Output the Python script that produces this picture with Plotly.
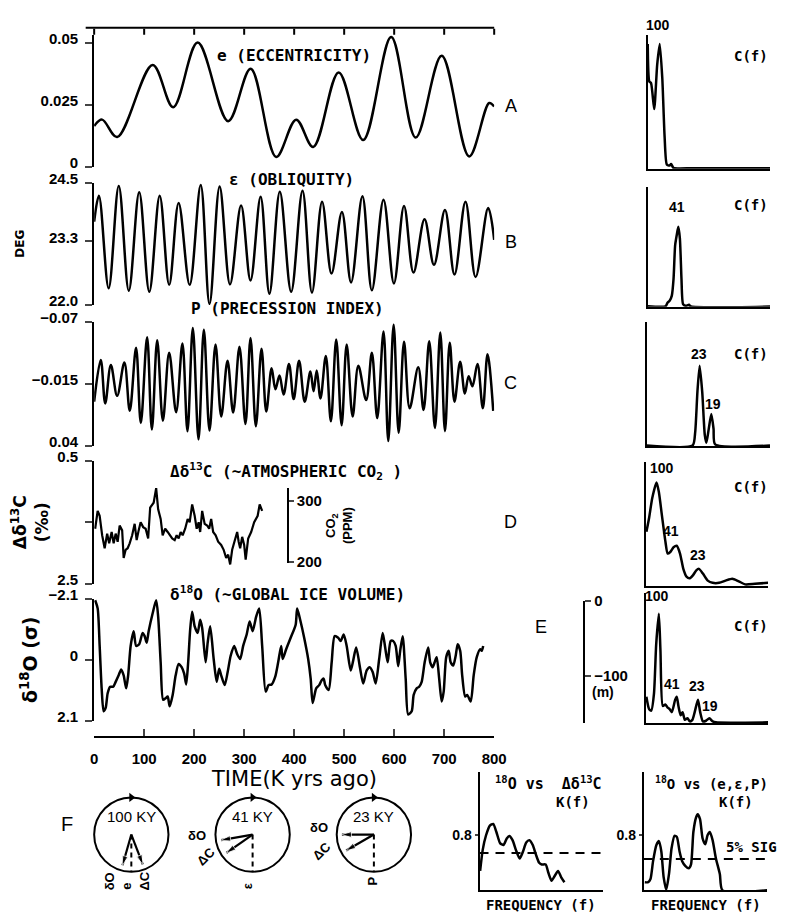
import plotly.graph_objects as go

# page is 791x921; the browser adds an 8px body margin, so the figure is 775x905 at (8, 8)
OFF = 8
FW, FH = 775, 905
def px(x): return (x - OFF) / FW
def py(y): return 1 - (y - OFF) / FH

# ---------------- data ----------------
ECC_T = [0, 16, 46, 117, 158, 207, 268, 313, 364, 404, 438, 489, 538, 594, 643, 695, 750, 790, 800]
ECC_V = [0.0164, 0.019, 0.012, 0.041, 0.024, 0.050, 0.0184, 0.0395, 0.004, 0.019, 0.008, 0.038,
         0.0108, 0.0522, 0.0118, 0.0447, 0.0042, 0.0257, 0.0243]

OBL_T = [0, 9.5, 29.0, 49.2, 69.3, 90.1, 110.3, 131.1, 150.0, 168.9, 191.0, 213.1, 230.7, 250.9,
         271.7, 293.8, 312.7, 332.9, 350.5, 371.3, 394.0, 416.7, 435.6, 455.8, 474.7, 495.5, 513.8,
         536.5, 555.4, 578.7, 599.5, 619.7, 638.6, 660.7, 679.6, 701.6, 720.6, 742.6, 762.8, 788.0, 800]
OBL_V = [23.70, 24.23, 22.34, 24.43, 22.29, 24.30, 22.27, 24.23, 22.41, 24.08, 22.41, 24.45, 22.02,
         24.42, 22.42, 24.03, 22.50, 24.21, 22.23, 24.31, 22.27, 24.33, 22.25, 24.11, 22.64, 23.90,
         22.46, 24.22, 22.30, 24.15, 22.44, 24.02, 22.66, 23.75, 22.82, 23.94, 22.62, 24.11, 22.57,
         23.98, 23.33]

PRE_T = [0, 13.2, 22.1, 33.4, 46.0, 60.5, 71.2, 83.8, 93.3, 105.9, 115.4, 126.1, 137.4, 150.0, 163.9,
         176.5, 186.6, 197.3, 208.7, 219.4, 230.7, 242.7, 254.1, 266.7, 278.0, 290.6, 302.6, 312.7,
         323.4, 334.7, 344.2, 354.9, 362.5, 370.7, 378.9, 389.6, 399.0, 409.8, 421.1, 432.5, 438.8,
         445.1, 452.6, 463.3, 473.4, 484.1, 494.9, 505.0, 516.9, 528.3, 544.0, 555.4, 566.1, 578.7,
         588.2, 598.9, 609.0, 619.7, 631.0, 648.1, 658.8, 670.1, 681.5, 692.2, 701.6, 711.1, 720.6,
         731.9, 741.4, 748.9, 756.5, 766.6, 777.3, 786.7, 798.1]
PRE_V = [0.0009, -0.0361, 0.0024, -0.0315, -0.0043, -0.0338, 0.0090, -0.0468, 0.0197, -0.0561,
         0.0255, -0.0535, 0.0177, -0.0425, 0.0102, -0.0506, 0.0270, -0.0642, 0.0342, -0.0628,
         0.0264, -0.0497, 0.0140, -0.0353, 0.0105, -0.0477, 0.0206, -0.0555, 0.0226, -0.0460,
         0.0096, -0.0286, -0.0101, -0.0222, -0.0054, -0.0324, -0.0014, -0.0353, 0.0009, -0.0257,
         -0.0083, -0.0266, -0.0020, -0.0396, 0.0183, -0.0541, 0.0218, -0.0497, 0.0140, -0.0309,
         -0.0005, -0.0425, 0.0154, -0.0613, 0.0357, -0.0671, 0.0284, -0.0521, 0.0067, -0.0295,
         0.0082, -0.0526, 0.0241, -0.0604, 0.0270, -0.0512, 0.0009, -0.0344, -0.0063, -0.0217,
         -0.0127, -0.0324, 0.0067, -0.0410, 0.0090]

CO2_T = [2, 7, 11, 16, 21, 26, 30, 35, 39, 43, 47, 51, 56, 59, 63, 67, 71, 76, 81, 85, 89, 93, 98,
         103, 108, 112, 119, 124, 128, 133, 137, 142, 147, 152, 156, 161, 165, 169, 173, 177, 182,
         187, 191, 196, 201, 205, 209, 212, 216, 221, 226, 230, 234, 238, 243, 248, 254, 259, 264,
         268, 272, 276, 281, 286, 289, 292, 296, 300, 303, 308, 314, 320, 327, 331, 336]
CO2_V = [1.605, 1.316, 1.395, 1.711, 1.921, 1.684, 1.842, 1.658, 1.842, 1.684, 1.816, 1.553, 1.632,
         2.079, 1.947, 1.921, 1.842, 1.711, 1.526, 1.789, 1.632, 1.500, 1.579, 1.605, 1.763, 1.263,
         1.184, 0.947, 1.289, 1.447, 1.711, 1.605, 1.658, 1.711, 1.763, 1.789, 1.711, 1.763, 1.658,
         1.711, 1.605, 1.447, 1.500, 1.211, 1.395, 1.605, 1.500, 1.658, 1.316, 1.526, 1.553, 1.605,
         1.447, 1.658, 1.711, 1.816, 1.868, 1.947, 2.079, 2.026, 2.184, 1.947, 1.816, 1.658, 1.816,
         1.921, 1.737, 1.868, 2.105, 1.763, 1.658, 1.500, 1.395, 1.211, 1.316]

ICE_T = [2, 7, 11, 15, 19, 23, 27, 32, 38, 43, 49, 54, 59, 64, 68, 73, 79, 84, 90, 97, 101, 105,
         109, 117, 124, 128, 133, 138, 143, 147, 151, 157, 163, 169, 175, 180, 184, 188, 192, 196,
         201, 207, 212, 216, 223, 227, 232, 239, 245, 250, 254, 261, 267, 273, 280, 286, 292, 298,
         305, 311, 317, 324, 330, 336, 343, 349, 355, 362, 368, 374, 377, 384, 393, 403, 406, 412,
         420, 428, 433, 437, 444, 450, 455, 459, 462, 469, 475, 481, 488, 493, 499, 505, 513, 518,
         524, 532, 538, 545, 551, 557, 563, 570, 577, 582, 587, 593, 598, 603, 608, 612, 617, 623,
         628, 635, 639, 645, 650, 655, 661, 668, 672, 677, 681, 685, 690, 695, 699, 704, 709, 713,
         718, 723, 727, 732, 736, 742, 746, 753, 759, 765, 772, 775, 778]
ICE_V = [-2.044, -1.764, -0.476, 0.980, 1.764, 1.652, 1.148, 0.924, 0.924, 0.756, 0.532, 0.330,
         0.532, 0.980, 0.532, -0.476, -0.980, -0.476, -0.532, -0.924, -0.812, -0.588, -0.980,
         -1.596, -2.044, -1.484, 0.084, 1.372, 1.316, 1.260, 1.596, 1.204, 0.532, 0.140, 0.252,
         0.476, 0.846, 0.084, -1.036, -1.652, -1.148, -0.924, -1.372, -1.092, 0.084, -0.588,
         -1.148, -0.028, 0.756, 0.308, 0.532, 0.868, 0.420, -0.140, -0.476, -0.196, -0.028,
         -0.476, -0.868, -1.316, -0.980, -1.484, -1.764, -0.476, 1.092, 0.868, 0.846, 0.588,
         0.084, -0.476, -0.028, -0.364, -0.756, -1.204, -1.764, -1.372, -0.756, -0.028, 0.644,
         1.484, 0.980, 0.868, 0.700, 0.644, 0.868, 1.036, 0.084, -0.812, -0.756, -0.644, -0.868,
         -0.476, 0.364, 0.028, -0.420, 0.308, 0.812, 0.364, 0.252, 0.420, 0.812, -0.028, -0.924,
         -0.420, 0.084, -0.644, -0.644, -0.476, 0.218, -0.308, -0.812, 0.644, 1.876, 1.764, 1.204,
         0.980, 0.924, 0.756, 0.084, -0.420, 0.084, 0.252, 0.084, -0.084, 0.644, 1.428, 1.092,
         -0.084, -0.308, 0.084, 0.196, -0.140, -0.532, -0.308, 0.532, 1.260, 1.204, 1.428, 0.532,
         -0.084, -0.364, -0.308, -0.476]

# spectra C(f): frequency (0..1 of axis) and normalised power
SA_F = [0, 0.013, 0.027, 0.053, 0.077, 0.098, 0.119, 0.138, 0.156, 0.178, 0.191, 0.21, 0.363, 1.0]
SA_C = [0.987, 0.69, 0.678, 0.472, 0.82, 0.987, 0.716, 0.253, 0.034, 0.026, 0.039, 0.008, 0.005, 0.005]
SB_F = [0, 0.145, 0.163, 0.179, 0.197, 0.211, 0.224, 0.237, 0.25, 0.263, 0.276, 0.289, 0.311, 0.337, 0.355, 1.0]
SB_C = [0.005, 0.005, 0.039, 0.054, 0.1, 0.248, 0.546, 0.636, 0.71, 0.606, 0.248, 0.024, 0.009, 0.018, 0.003, 0.003]
SC_F = [0, 0.372, 0.393, 0.411, 0.429, 0.45, 0.471, 0.484, 0.503, 0.524, 0.542, 0.555, 1.0]
SC_C = [0.003, 0.003, 0.118, 0.461, 0.684, 0.461, 0.092, 0.026, 0.145, 0.271, 0.145, 0.013, 0.003]
SD_F = [0.005, 0.027, 0.053, 0.088, 0.107, 0.133, 0.16, 0.179, 0.2, 0.227, 0.253, 0.28, 0.307, 0.333,
        0.36, 0.387, 0.413, 0.435, 0.467, 0.507, 0.547, 0.6, 0.653, 0.707, 0.76, 0.813, 0.893, 1.0]
SD_C = [0.461, 0.579, 0.75, 0.882, 0.8, 0.592, 0.382, 0.276, 0.289, 0.329, 0.342, 0.276, 0.145, 0.079,
        0.066, 0.092, 0.132, 0.145, 0.105, 0.045, 0.026, 0.026, 0.045, 0.061, 0.039, 0.013, 0.018, 0.026]
SE_F = [0.005, 0.027, 0.045, 0.067, 0.085, 0.107, 0.12, 0.139, 0.16, 0.179, 0.195, 0.213, 0.24, 0.253,
        0.267, 0.285, 0.301, 0.32, 0.341, 0.36, 0.381, 0.4, 0.427, 0.445, 0.467, 0.493, 0.52, 0.547,
        0.573, 1.0]
SE_C = [0.213, 0.113, 0.1, 0.238, 0.638, 0.888, 0.588, 0.138, 0.15, 0.125, 0.113, 0.088, 0.188, 0.213,
        0.138, 0.063, 0.088, 0.025, 0.038, 0.013, 0.025, 0.088, 0.188, 0.088, 0.013, 0.018, 0.038,
        0.013, 0.005, 0.005]

# coherence K(f)
K1_F = [0.005, 0.026, 0.053, 0.084, 0.111, 0.137, 0.168, 0.195, 0.221, 0.242, 0.268, 0.295, 0.326,
        0.353, 0.379, 0.405, 0.432, 0.458, 0.484, 0.505, 0.537, 0.558, 0.584, 0.611, 0.637, 0.663, 0.689]
K1_K = [0.282, 0.588, 0.8, 0.941, 0.965, 0.847, 0.682, 0.659, 0.753, 0.791, 0.729, 0.588, 0.461,
        0.565, 0.696, 0.729, 0.659, 0.518, 0.4, 0.376, 0.376, 0.259, 0.141, 0.212, 0.282, 0.188, 0.118]
K2_F = [0.008, 0.035, 0.054, 0.075, 0.102, 0.123, 0.142, 0.161, 0.182, 0.204, 0.225, 0.249, 0.268,
        0.29, 0.311, 0.338, 0.365, 0.383, 0.402, 0.424, 0.437, 0.456, 0.477, 0.499, 0.517, 0.536,
        0.558, 0.584, 0.617, 0.638, 1.0]
K2_K = [0.118, 0.118, 0.165, 0.424, 0.659, 0.715, 0.565, 0.188, 0.009, 0.235, 0.612, 0.791, 0.776,
        0.565, 0.424, 0.353, 0.32, 0.376, 0.847, 1.059, 1.106, 1.035, 0.753, 0.668, 0.8, 0.847,
        0.729, 0.471, 0.235, 0.0, 0.0]
K1_SIG = 0.541
K2_SIG = 0.456

# phase wheels: period label, phase (deg clockwise from the orbital reference) of dO and dC
WHEEL_LABELS = ['100 KY', '41 KY', '23 KY']
PHASE_O = [16, 80, 90]
PHASE_C = [339, 55, 60]
TIME_TICKS = list(range(0, 801, 100))

# ---------------- styling ----------------
BOLD = dict(family='Liberation Sans', size=15, color='black', weight='bold')
SMALLBOLD = dict(family='Liberation Sans', size=14, color='black', weight='bold')
LW = 2.5

fig = go.Figure()

def line_trace(x, y, xa, ya, shape='spline', smooth=1.0, width=LW, dash=None):
    ln = dict(color='black', width=width)
    if shape == 'spline':
        ln.update(shape='spline', smoothing=smooth)
    if dash:
        ln['dash'] = dash
    return go.Scatter(x=x, y=y, xaxis=xa, yaxis=ya, mode='lines', line=ln,
                      showlegend=False, hoverinfo='skip')

fig.add_trace(line_trace(ECC_T, ECC_V, 'x', 'y'))
fig.add_trace(line_trace(OBL_T, OBL_V, 'x', 'y2'))
fig.add_trace(line_trace(PRE_T, PRE_V, 'x', 'y3'))
fig.add_trace(line_trace(CO2_T, CO2_V, 'x', 'y4', shape='linear', width=2.2))
fig.add_trace(line_trace(ICE_T, ICE_V, 'x', 'y5', smooth=0.7))
# scale axes (CO2 ppm, sea level m)
fig.add_trace(go.Scatter(x=[None], y=[None], xaxis='x', yaxis='y6', showlegend=False))
fig.add_trace(go.Scatter(x=[None], y=[None], xaxis='x', yaxis='y7', showlegend=False))

spectra = [(SA_F, SA_C), (SB_F, SB_C), (SC_F, SC_C), (SD_F, SD_C), (SE_F, SE_C)]
for i, (f, c) in enumerate(spectra):
    fig.add_trace(line_trace(f, c, f'x{3+i}', f'y{8+i}', smooth=0.6))

fig.add_trace(line_trace(K1_F, K1_K, 'x8', 'y13', smooth=0.6))
fig.add_trace(line_trace([0, 1], [K1_SIG, K1_SIG], 'x8', 'y13', shape='linear', width=2, dash='9px,7px'))
fig.add_trace(line_trace(K2_F, K2_K, 'x9', 'y14', smooth=0.6))
fig.add_trace(line_trace([0, 1], [K2_SIG, K2_SIG], 'x9', 'y14', shape='linear', width=2, dash='9px,7px'))

# phase wheels
for i in range(3):
    sp = 'polar' if i == 0 else f'polar{i+1}'
    fig.add_trace(go.Scatterpolar(r=[0, 1], theta=[0, 0], mode='lines', subplot=sp,
                                  line=dict(color='black', width=2, dash='5px,4px'),
                                  showlegend=False, hoverinfo='skip'))
    for ph in (PHASE_O[i], PHASE_C[i]):
        fig.add_trace(go.Scatterpolar(r=[0, 0.86], theta=[ph, ph], mode='lines+markers', subplot=sp,
                                      line=dict(color='black', width=2.2),
                                      marker=dict(symbol=['circle', 'arrow'], size=[0, 10],
                                                  angle=[0, 180 + ph], color='black'),
                                      showlegend=False, hoverinfo='skip'))
    fig.add_trace(go.Scatterpolar(r=[1], theta=[180], mode='markers', subplot=sp, cliponaxis=False,
                                  marker=dict(symbol='triangle-right', size=8, color='black'),
                                  showlegend=False, hoverinfo='skip'))

# ---------------- axes ----------------
X0, X1 = 92, 501
ax_common = dict(showgrid=False, zeroline=False, showline=True, linecolor='black', linewidth=2)

layout = dict(
    width=FW, height=FH, autosize=False,
    margin=dict(l=0, r=0, t=0, b=0),
    paper_bgcolor='white', plot_bgcolor='rgba(0,0,0,0)',
    showlegend=False,
    xaxis=dict(domain=[px(X0), px(X1)], range=[0, 800], anchor='free', position=py(739),
               ticks='inside', ticklen=7, tickwidth=2, tickvals=TIME_TICKS,
               tickfont=BOLD, ticklabelstandoff=8, **ax_common),
)

def yax(top, bot, rng, tv, tt, title=None, tsize=15, standoff=6, shift=-4):
    d = dict(domain=[py(bot), py(top)], range=rng, anchor='x', ticks='outside', ticklen=7,
             tickwidth=2, tickvals=tv, ticktext=tt, tickfont=BOLD, ticklabelstandoff=4,
             ticklabelshift=shift, **ax_common)
    if title:
        d['title'] = dict(text=title, font=dict(family='DejaVu Sans', size=tsize, color='black',
                                                weight='bold'), standoff=standoff)
    return d

layout['yaxis'] = yax(22.4, 157, [0, 0.053], [0, 0.025, 0.05], ['0', '0.025', '0.05'])
layout['yaxis2'] = yax(173, 298, [22.0, 24.5], [22.0, 23.3, 24.5], ['22.0', '23.3', '24.5'],
                       title='DEG', tsize=12, standoff=22)
layout['yaxis3'] = yax(315, 442, [0.04, -0.07], [-0.07, -0.015, 0.04], ['−0.07', '−0.015', '0.04'],
                       shift=4)
layout['yaxis4'] = yax(457, 583, [2.5, 0.5], [0.5, 1.5, 2.5], ['0.5', '', '2.5'],
                       title='Δδ<sup>13</sup>C<br>(‰)', tsize=17, shift=4)
layout['yaxis5'] = yax(598, 723, [2.1, -2.1], [-2.1, 0, 2.1], ['−2.1', '0', '2.1'],
                       title='δ<sup>18</sup>O (σ)', tsize=19, shift=4)
layout['yaxis6'] = dict(domain=[py(562), py(485)], range=[197, 321], anchor='free', position=px(290),
                        side='right', ticks='outside', ticklen=5, tickwidth=2, tickvals=[200, 300],
                        tickfont=BOLD,
                        title=dict(text='CO<sub>2</sub><br>(PPM)',
                                   font=dict(family='Liberation Sans', size=13, color='black',
                                             weight='bold'), standoff=4),
                        **ax_common)
layout['yaxis7'] = dict(domain=[py(725), py(600)], range=[-162, 0], anchor='free', position=px(593),
                        side='right', ticks='outside', ticklen=6, tickwidth=2, tickvals=[0, -100],
                        ticktext=['0', '−100'], tickfont=BOLD, **ax_common)

spec_boxes = [(658, 783, 22, 159), (658, 783, 178, 300), (657, 783, 315, 442),
              (656, 781, 458, 585), (656, 781, 592, 725)]
for i, (l, r, t, b) in enumerate(spec_boxes):
    layout[f'xaxis{3+i}'] = dict(domain=[px(l), px(r)], range=[0, 1], anchor=f'y{8+i}',
                                 ticks='', showticklabels=False, **ax_common)
    layout[f'yaxis{8+i}'] = dict(domain=[py(b), py(t)], range=[0, 1.06], anchor=f'x{3+i}',
                                 ticks='', showticklabels=False, **ax_common)

coh_boxes = [(486, 612), (654, 780)]
for i, (l, r) in enumerate(coh_boxes):
    layout[f'xaxis{8+i}'] = dict(domain=[px(l), px(r)], range=[0, 1], anchor=f'y{13+i}',
                                 ticks='', showticklabels=False, **ax_common)
    layout[f'yaxis{13+i}'] = dict(domain=[py(896), py(775)], range=[0, 1.72], anchor=f'x{8+i}',
                                  ticks='outside', ticklen=3, tickwidth=2, tickvals=[0.8],
                                  ticktext=['0.8'], tickfont=SMALLBOLD, **ax_common)

R = 38
WHEEL_X = [130, 254, 378]
for i, cx in enumerate(WHEEL_X):
    cy = 839
    key = 'polar' if i == 0 else f'polar{i+1}'
    layout[key] = dict(domain=dict(x=[px(cx - R), px(cx + R)], y=[py(cy + R), py(cy - R)]),
                       bgcolor='rgba(0,0,0,0)',
                       angularaxis=dict(direction='clockwise', rotation=270, showline=True,
                                        linecolor='black', linewidth=2, showticklabels=False,
                                        ticks='', showgrid=False),
                       radialaxis=dict(visible=False, range=[0, 1]))

fig.update_layout(**layout)

# ---------------- top time axis (drawn in the annotation layer) ----------------
TOP_Y = 15          # page y of the top axis line
TOP_TICK = 7        # tick length, pointing down
def time_to_paper(t):
    return px(X0) + (t - TIME_TICKS[0]) / (TIME_TICKS[-1] - TIME_TICKS[0]) * (px(X1) - px(X0))

axis_len_px = (time_to_paper(TIME_TICKS[-1]) - time_to_paper(TIME_TICKS[0])) * FW
fig.add_annotation(x=time_to_paper(TIME_TICKS[-1]), y=py(TOP_Y), xref='paper', yref='paper',
                   text=' ', font=dict(size=1), showarrow=True, arrowhead=0, arrowwidth=2,
                   arrowcolor='black', ax=-axis_len_px, ay=0, standoff=0, startstandoff=0,
                   borderpad=0)
for t in TIME_TICKS:
    fig.add_annotation(x=time_to_paper(t), y=py(TOP_Y + TOP_TICK), xref='paper', yref='paper',
                       text=' ', font=dict(size=1), showarrow=True, arrowhead=0, arrowwidth=2,
                       arrowcolor='black', ax=0, ay=-TOP_TICK, standoff=0, startstandoff=0,
                       borderpad=0)

# ---------------- text ----------------
def note(x, y, text, size=15, family='DejaVu Sans Mono', bold=True, angle=0, xanchor='center'):
    fig.add_annotation(x=px(x), y=py(y), xref='paper', yref='paper', text=text, showarrow=False,
                       xanchor=xanchor, yanchor='middle', textangle=angle,
                       font=dict(family=family, size=size, color='black',
                                 weight='bold' if bold else 'normal'))

note(296, 43, 'e (ECCENTRICITY)', 16)
note(294, 170, 'ε (OBLIQUITY)', 16)
note(290, 302, 'P (PRECESSION INDEX)', 16)
note(288, 468, 'Δδ<sup>13</sup>C (~ATMOSPHERIC CO<sub>2</sub> )', 16)
note(290, 593, 'δ<sup>18</sup>O (~GLOBAL ICE VOLUME)', 16)
note(296, 782, 'TIME(K yrs ago)', 21, family='DejaVu Sans', bold=False)
for lab, y in zip('ABCD', [95, 234, 378, 520]):
    note(518, y, lab, 18, family='Liberation Sans', bold=False)
note(549, 627, 'E', 18, family='Liberation Sans', bold=False)
note(612, 693, '(m)', 14, family='Liberation Sans')

# spectra labels
SL = dict(size=14, family='Liberation Sans')
note(668, 12, '100', **SL)
note(688, 198, '41', **SL)
note(710, 348, '23', **SL)
note(725, 399, '19', **SL)
note(673, 465, '100', **SL)
note(682, 529, '41', **SL)
note(709, 553, '23', **SL)
note(667, 595, '100', **SL)
note(683, 685, '41', **SL)
note(708, 687, '23', **SL)
note(722, 708, '19', **SL)
for y in [44, 196, 348, 484, 626]:
    note(764, y, 'C(f)', 14)

# coherence labels
note(557, 786, '<sup>18</sup>O vs  Δδ<sup>13</sup>C', 15)
note(582, 806, 'K(f)', 14)
note(723, 786, '<sup>18</sup>O vs (e,ε,P)', 14)
note(748, 806, 'K(f)', 14)
note(764, 852, '5% SIG', 14)
note(549, 911, 'FREQUENCY (f)', 14)
note(718, 911, 'FREQUENCY (f)', 14)

# phase wheel labels
WL = dict(size=13, family='Liberation Sans')
note(64, 828, 'F', 20, family='Liberation Sans', bold=False)
for lab, cx in zip(WHEEL_LABELS, WHEEL_X):
    note(cx, 821, lab, 15, family='Liberation Sans', bold=False)
note(108, 887, 'δO', angle=-90, **WL)
note(125, 892, 'e', angle=-90, **WL)
note(144, 887, 'ΔC', angle=-90, **WL)
note(197, 840, 'δO', **WL)
note(206, 861, 'ΔC', angle=-45, **WL)
note(249, 892, 'ε', angle=-90, **WL)
note(322, 832, 'δO', **WL)
note(324, 856, 'ΔC', angle=-45, **WL)
note(377, 886, 'P', angle=-90, **WL)

fig.write_html('out.html', config={'displayModeBar': False})
